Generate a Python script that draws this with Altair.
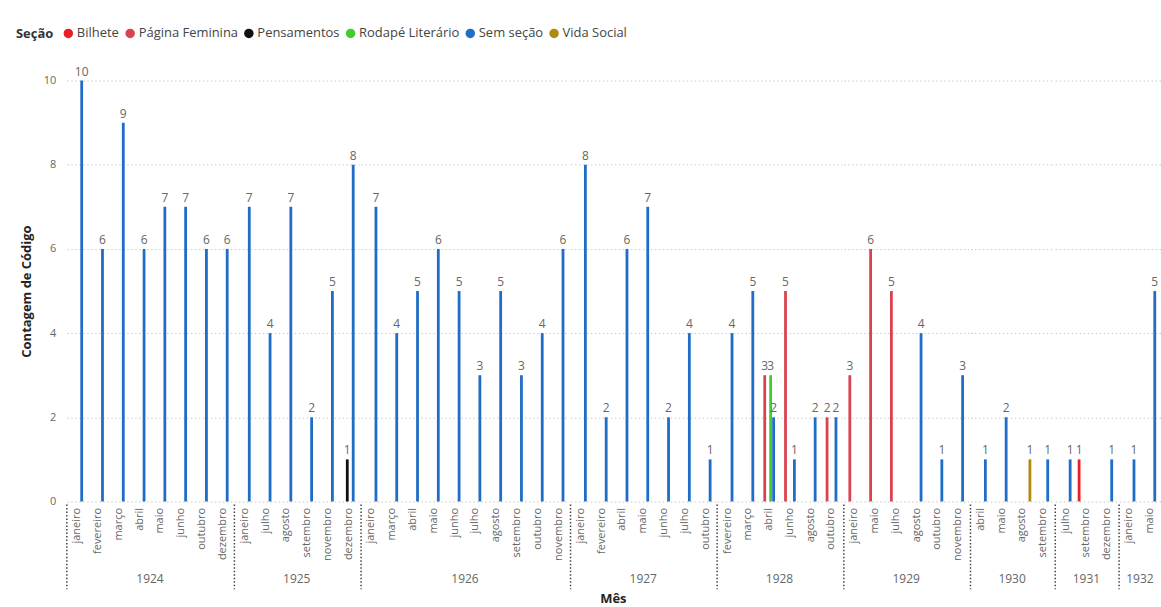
import altair as alt
import pandas as pd

# --- data ---
anos = ["1924"] * 8 + ["1925"] * 7 + ["1926"] * 10 + ["1927"] * 7 + ["1928"] * 10 + ["1929"] * 6 + ["1930"] * 4 + ["1931"] * 3 + ["1932"] * 2
meses = [
    "janeiro", "fevereiro", "março", "abril", "maio", "junho", "outubro", "dezembro",
    "janeiro", "julho", "agosto", "setembro", "novembro", "dezembro", "dezembro",
    "janeiro", "março", "abril", "maio", "junho", "julho", "agosto", "setembro", "outubro", "novembro",
    "janeiro", "fevereiro", "abril", "maio", "junho", "julho", "outubro",
    "fevereiro", "março", "abril", "abril", "abril", "junho", "junho", "agosto", "outubro", "outubro",
    "janeiro", "maio", "julho", "agosto", "outubro", "novembro",
    "abril", "maio", "agosto", "setembro",
    "julho", "setembro", "dezembro",
    "janeiro", "maio",
]
secao = [
    "Sem seção"] * 8 + [
    "Sem seção", "Sem seção", "Sem seção", "Sem seção", "Sem seção", "Pensamentos", "Sem seção"] + [
    "Sem seção"] * 10 + [
    "Sem seção"] * 7 + [
    "Sem seção", "Sem seção", "Página Feminina", "Rodapé Literário", "Sem seção",
    "Página Feminina", "Sem seção", "Sem seção", "Página Feminina", "Sem seção"] + [
    "Página Feminina", "Página Feminina", "Página Feminina", "Sem seção", "Sem seção", "Sem seção"] + [
    "Sem seção", "Sem seção", "Vida Social", "Sem seção"] + [
    "Sem seção", "Bilhete", "Sem seção"] + [
    "Sem seção", "Sem seção"]
valores = [
    10, 6, 9, 6, 7, 7, 6, 6,
    7, 4, 7, 2, 5, 1, 8,
    7, 4, 5, 6, 5, 3, 5, 3, 4, 6,
    8, 2, 6, 7, 2, 4, 1,
    4, 5, 3, 3, 2, 5, 1, 2, 2, 2,
    3, 6, 5, 4, 1, 3,
    1, 2, 1, 1,
    1, 1, 1,
    1, 5,
]

ordem_meses = ["janeiro", "fevereiro", "março", "abril", "maio", "junho", "julho",
               "agosto", "setembro", "outubro", "novembro", "dezembro"]
secoes = ["Bilhete", "Página Feminina", "Pensamentos", "Rodapé Literário", "Sem seção", "Vida Social"]
cores = ["#EE1C25", "#D9434F", "#111111", "#43CC2E", "#1F6DC6", "#B08A10"]

df = pd.DataFrame({"ano": anos, "mes": meses, "secao": secao, "valor": valores})
df["mnum"] = df["mes"].map(lambda m: ordem_meses.index(m) + 1)

H = 422
STEP = 20.84
FONT = "Open Sans"

x_enc = alt.X(
    "mes:N",
    sort=alt.EncodingSortField(field="mnum", op="min"),
    scale=alt.Scale(paddingInner=0.15, paddingOuter=0.075),
    axis=alt.Axis(title=None, labelAngle=-90, labelColor="#666666", labelFontSize=11,
                  labelPadding=6, ticks=False, domain=False, grid=False, labelFont=FONT),
)
xoff = alt.XOffset("secao:N", scale=alt.Scale(domain=secoes, range=[0, 17.8],
                                               paddingInner=0, paddingOuter=0))

bars = alt.Chart().mark_bar(width=2.8).encode(
    x=x_enc,
    xOffset=xoff,
    y=alt.Y("valor:Q", scale=alt.Scale(domain=[0, 10], nice=False),
            axis=alt.Axis(title="Contagem de Código", values=[0, 2, 4, 6, 8, 10],
                          labelColor="#666666", labelFontSize=11, labelPadding=10,
                          titleFontSize=13, titleFontWeight="bold", titleColor="#252423",
                          titlePadding=10, titleFont=FONT, labelFont=FONT,
                          ticks=False, domain=False, grid=True, gridColor="#c8c8c8",
                          gridDash=[1.5, 2.5], gridWidth=1)),
    color=alt.Color("secao:N", scale=alt.Scale(domain=secoes, range=cores),
                    legend=alt.Legend(title="Seção", orient="none", direction="horizontal",
                                      legendX=-51, legendY=-54,
                                      titleOrient="left", titleFontSize=13, titleFontWeight="bold",
                                      titleColor="#333333", titleFont=FONT, titlePadding=8,
                                      labelFontSize=13, labelColor="#444444", labelFont=FONT,
                                      symbolType="circle", symbolSize=90, symbolStrokeWidth=0,
                                      labelOffset=2, columnPadding=4)),
)

labels = alt.Chart().mark_text(dy=-9, fontSize=12, color="#666666", font=FONT).encode(
    x=x_enc,
    xOffset=xoff,
    y=alt.Y("valor:Q"),
    text=alt.Text("valor:Q"),
)

seps = alt.Chart().mark_rule(strokeDash=[1.5, 2], color="#444444", strokeWidth=1.5).encode(
    x=alt.value(0), y=alt.value(H + 3), y2=alt.value(H + 88),
).transform_aggregate(n="count()", groupby=["ano"])

chart = alt.layer(bars, labels, seps, data=df).properties(
    width=alt.Step(STEP, **{"for": "position"}), height=H
).facet(
    column=alt.Column("ano:N", header=alt.Header(
        labelOrient="bottom", titleOrient="bottom", title="Mês",
        labelColor="#666666", labelFontSize=12, labelFont=FONT, labelPadding=-16,
        titleFontSize=13, titleFontWeight="bold", titleColor="#252423", titleFont=FONT,
        titlePadding=-7)),
    spacing=0,
).resolve_scale(x="independent").configure_view(stroke=None).properties(
    padding={"left": 16, "top": 26, "right": 0, "bottom": 0}
)

chart.save("out.html", embed_options={"renderer": "svg", "actions": False})
